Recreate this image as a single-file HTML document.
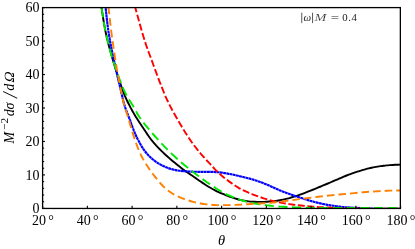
<!DOCTYPE html>
<html><head><meta charset="utf-8"><title>plot</title>
<style>
html,body{margin:0;padding:0;background:#fff;}
body{width:415px;height:249px;overflow:hidden;font-family:"Liberation Serif",serif;}
svg{display:block;}
text{font-family:"Liberation Serif",serif;fill:#000;}
</style></head><body>
<svg width="415" height="249" viewBox="0 0 415 249">
<rect width="415" height="249" fill="#fff"/>
<defs><filter id="gs" x="0" y="0" width="415" height="249" filterUnits="userSpaceOnUse" color-interpolation-filters="sRGB"><feColorMatrix type="saturate" values="0"/></filter><clipPath id="c"><rect x="42.6" y="8.1" width="357.75" height="200.95"/></clipPath></defs>
<g clip-path="url(#c)" fill="none" stroke-width="1.9" stroke-linecap="butt" stroke-linejoin="round">
<path d="M99.04 -7.90 C99.12 -7.40 99.35 -5.92 99.51 -4.94 C99.67 -3.95 99.82 -2.96 99.98 -1.97 C100.14 -0.99 100.30 0.00 100.45 0.99 C100.61 1.98 100.77 2.96 100.93 3.95 C101.08 4.94 101.24 5.93 101.40 6.91 C101.55 7.90 101.71 8.89 101.87 9.88 C102.02 10.86 102.17 11.85 102.33 12.84 C102.48 13.83 102.63 14.82 102.79 15.81 C102.94 16.79 103.09 17.78 103.25 18.77 C103.41 19.76 103.57 20.74 103.73 21.73 C103.89 22.72 104.06 23.70 104.23 24.69 C104.40 25.67 104.58 26.66 104.76 27.64 C104.94 28.62 105.13 29.61 105.33 30.59 C105.53 31.57 105.73 32.55 105.94 33.52 C106.15 34.50 106.37 35.48 106.59 36.45 C106.82 37.42 107.05 38.40 107.28 39.37 C107.52 40.34 107.76 41.31 108.01 42.28 C108.25 43.25 108.51 44.22 108.76 45.18 C109.01 46.15 109.27 47.12 109.54 48.08 C109.80 49.05 110.06 50.01 110.33 50.97 C110.60 51.94 110.87 52.90 111.14 53.86 C111.42 54.82 111.69 55.78 111.97 56.75 C112.25 57.71 112.53 58.67 112.81 59.63 C113.09 60.58 113.38 61.54 113.66 62.50 C113.95 63.46 114.24 64.42 114.53 65.37 C114.82 66.33 115.11 67.29 115.41 68.24 C115.70 69.20 116.00 70.15 116.30 71.11 C116.60 72.06 116.90 73.02 117.20 73.97 C117.50 74.92 117.81 75.87 118.12 76.82 C118.43 77.78 118.74 78.73 119.05 79.68 C119.36 80.63 119.68 81.57 120.00 82.52 C120.32 83.47 120.64 84.42 120.96 85.36 C121.29 86.31 121.62 87.25 121.96 88.19 C122.29 89.13 122.63 90.07 122.98 91.01 C123.34 91.95 123.69 92.88 124.06 93.81 C124.43 94.74 124.82 95.66 125.21 96.58 C125.61 97.49 126.02 98.41 126.44 99.31 C126.86 100.22 127.29 101.12 127.73 102.02 C128.17 102.91 128.63 103.80 129.08 104.69 C129.54 105.58 130.00 106.47 130.46 107.36 C130.93 108.24 131.40 109.12 131.88 110.00 C132.36 110.88 132.84 111.75 133.34 112.62 C133.83 113.49 134.34 114.35 134.85 115.21 C135.36 116.07 135.88 116.92 136.41 117.77 C136.94 118.62 137.48 119.46 138.02 120.30 C138.56 121.14 139.11 121.98 139.66 122.82 C140.21 123.65 140.77 124.48 141.32 125.31 C141.88 126.14 142.44 126.97 143.00 127.80 C143.56 128.63 144.12 129.46 144.68 130.28 C145.24 131.11 145.79 131.94 146.35 132.77 C146.91 133.60 147.46 134.44 148.03 135.26 C148.59 136.09 149.16 136.91 149.74 137.72 C150.33 138.53 150.92 139.33 151.54 140.11 C152.15 140.90 152.79 141.67 153.44 142.43 C154.08 143.19 154.75 143.93 155.42 144.67 C156.09 145.41 156.78 146.14 157.47 146.87 C158.15 147.59 158.85 148.31 159.55 149.03 C160.25 149.74 160.95 150.45 161.66 151.16 C162.37 151.86 163.09 152.56 163.81 153.25 C164.54 153.94 165.27 154.62 166.00 155.29 C166.74 155.97 167.49 156.63 168.24 157.29 C168.99 157.95 169.75 158.60 170.51 159.25 C171.27 159.90 172.04 160.54 172.81 161.18 C173.58 161.82 174.35 162.45 175.13 163.08 C175.90 163.71 176.68 164.34 177.46 164.97 C178.24 165.59 179.02 166.21 179.81 166.82 C180.60 167.44 181.40 168.05 182.20 168.65 C182.99 169.25 183.80 169.84 184.61 170.43 C185.42 171.01 186.24 171.59 187.06 172.16 C187.87 172.74 188.70 173.31 189.52 173.88 C190.34 174.45 191.16 175.01 191.98 175.58 C192.81 176.15 193.63 176.72 194.45 177.29 C195.27 177.86 196.10 178.43 196.92 179.00 C197.74 179.57 198.56 180.13 199.39 180.70 C200.22 181.26 201.04 181.82 201.87 182.38 C202.70 182.94 203.53 183.50 204.37 184.05 C205.20 184.60 206.04 185.15 206.88 185.68 C207.72 186.22 208.57 186.75 209.43 187.27 C210.28 187.78 211.14 188.29 212.01 188.78 C212.88 189.27 213.76 189.75 214.65 190.20 C215.54 190.66 216.44 191.10 217.34 191.52 C218.24 191.95 219.15 192.36 220.07 192.76 C220.99 193.16 221.91 193.55 222.83 193.93 C223.76 194.31 224.69 194.68 225.62 195.04 C226.55 195.40 227.48 195.76 228.42 196.11 C229.36 196.46 230.29 196.81 231.24 197.14 C232.18 197.48 233.12 197.81 234.07 198.12 C235.02 198.43 235.97 198.74 236.93 199.02 C237.89 199.30 238.85 199.57 239.82 199.81 C240.78 200.06 241.76 200.28 242.74 200.47 C243.71 200.67 244.70 200.84 245.68 200.99 C246.67 201.14 247.66 201.26 248.66 201.37 C249.65 201.48 250.64 201.57 251.64 201.64 C252.64 201.72 253.63 201.77 254.63 201.82 C255.63 201.86 256.63 201.89 257.63 201.91 C258.63 201.92 259.63 201.92 260.63 201.91 C261.62 201.90 262.62 201.87 263.62 201.84 C264.62 201.80 265.62 201.75 266.62 201.69 C267.61 201.64 268.61 201.58 269.61 201.50 C270.61 201.43 271.60 201.36 272.60 201.26 C273.59 201.17 274.59 201.07 275.58 200.94 C276.57 200.81 277.56 200.67 278.54 200.50 C279.53 200.34 280.51 200.15 281.49 199.95 C282.46 199.75 283.44 199.53 284.41 199.30 C285.38 199.07 286.35 198.83 287.32 198.57 C288.29 198.32 289.25 198.06 290.21 197.79 C291.18 197.51 292.13 197.23 293.09 196.94 C294.05 196.65 295.00 196.35 295.95 196.04 C296.90 195.73 297.85 195.41 298.79 195.08 C299.74 194.76 300.68 194.42 301.62 194.08 C302.56 193.74 303.50 193.40 304.44 193.05 C305.37 192.69 306.30 192.33 307.24 191.97 C308.17 191.61 309.10 191.24 310.03 190.87 C310.96 190.50 311.88 190.13 312.81 189.75 C313.74 189.38 314.66 189.00 315.59 188.62 C316.51 188.24 317.44 187.86 318.36 187.47 C319.28 187.09 320.21 186.71 321.13 186.32 C322.05 185.94 322.98 185.55 323.90 185.17 C324.82 184.78 325.74 184.39 326.67 184.00 C327.59 183.62 328.51 183.23 329.43 182.84 C330.35 182.45 331.27 182.05 332.19 181.66 C333.11 181.27 334.03 180.88 334.95 180.48 C335.86 180.08 336.78 179.69 337.70 179.29 C338.62 178.89 339.53 178.49 340.45 178.09 C341.37 177.69 342.28 177.29 343.20 176.90 C344.13 176.51 345.05 176.13 345.97 175.75 C346.90 175.38 347.83 175.01 348.76 174.65 C349.70 174.30 350.64 173.95 351.58 173.62 C352.52 173.28 353.46 172.95 354.41 172.63 C355.36 172.31 356.31 172.00 357.26 171.70 C358.21 171.39 359.17 171.09 360.12 170.80 C361.08 170.51 362.04 170.22 363.00 169.94 C363.96 169.66 364.92 169.39 365.88 169.13 C366.85 168.87 367.82 168.62 368.79 168.38 C369.76 168.14 370.73 167.91 371.71 167.70 C372.68 167.49 373.66 167.29 374.64 167.11 C375.63 166.92 376.61 166.75 377.60 166.59 C378.58 166.43 379.57 166.28 380.56 166.14 C381.55 166.00 382.54 165.86 383.53 165.74 C384.53 165.62 385.52 165.50 386.51 165.40 C387.51 165.30 388.50 165.21 389.50 165.13 C390.50 165.05 391.49 164.99 392.49 164.93 C393.49 164.87 394.49 164.83 395.49 164.79 C396.49 164.75 397.49 164.71 398.49 164.68 C399.49 164.66 400.48 164.64 401.48 164.62 C402.48 164.61 403.48 164.60 404.48 164.59 C405.48 164.59 406.48 164.59 407.48 164.59 C408.48 164.59 409.48 164.59 410.48 164.59 C411.48 164.60 412.48 164.60 413.48 164.60 C414.48 164.60 415.98 164.60 416.48 164.60" stroke="#000"/>
<path d="M103.95 -7.95 C104.00 -7.46 104.16 -5.97 104.27 -4.97 C104.37 -3.98 104.48 -2.98 104.59 -1.99 C104.69 -0.99 104.79 0.00 104.90 0.99 C105.01 1.99 105.11 2.98 105.22 3.98 C105.32 4.97 105.43 5.97 105.54 6.96 C105.65 7.95 105.76 8.95 105.86 9.94 C105.97 10.94 106.08 11.93 106.19 12.93 C106.30 13.92 106.40 14.91 106.51 15.91 C106.62 16.90 106.73 17.90 106.84 18.89 C106.95 19.88 107.06 20.88 107.18 21.87 C107.30 22.86 107.42 23.86 107.54 24.85 C107.67 25.84 107.79 26.83 107.93 27.82 C108.06 28.81 108.20 29.80 108.34 30.79 C108.49 31.78 108.64 32.77 108.80 33.76 C108.95 34.75 109.12 35.73 109.29 36.72 C109.45 37.70 109.63 38.69 109.81 39.67 C109.98 40.66 110.17 41.64 110.35 42.62 C110.54 43.61 110.73 44.59 110.92 45.57 C111.11 46.55 111.31 47.53 111.50 48.51 C111.70 49.49 111.90 50.47 112.10 51.45 C112.30 52.43 112.51 53.41 112.71 54.39 C112.92 55.37 113.12 56.34 113.33 57.32 C113.54 58.30 113.74 59.28 113.95 60.26 C114.16 61.24 114.37 62.21 114.58 63.19 C114.79 64.17 115.01 65.15 115.22 66.12 C115.44 67.10 115.65 68.08 115.87 69.05 C116.09 70.03 116.31 71.00 116.53 71.98 C116.75 72.95 116.98 73.93 117.20 74.90 C117.43 75.88 117.65 76.85 117.88 77.82 C118.11 78.80 118.34 79.77 118.57 80.74 C118.80 81.72 119.03 82.69 119.26 83.66 C119.49 84.64 119.72 85.61 119.95 86.58 C120.18 87.56 120.41 88.53 120.64 89.50 C120.87 90.48 121.09 91.45 121.32 92.42 C121.55 93.40 121.77 94.37 122.00 95.35 C122.22 96.32 122.44 97.30 122.68 98.27 C122.91 99.24 123.14 100.21 123.38 101.18 C123.63 102.15 123.88 103.12 124.15 104.08 C124.43 105.04 124.71 106.00 125.02 106.95 C125.33 107.90 125.66 108.84 126.00 109.78 C126.33 110.72 126.70 111.65 127.06 112.58 C127.42 113.51 127.80 114.44 128.16 115.37 C128.53 116.30 128.89 117.23 129.25 118.17 C129.60 119.10 129.95 120.04 130.29 120.98 C130.63 121.92 130.97 122.86 131.31 123.80 C131.65 124.74 131.98 125.68 132.33 126.62 C132.67 127.56 133.02 128.50 133.38 129.43 C133.74 130.36 134.11 131.29 134.49 132.21 C134.88 133.13 135.27 134.05 135.69 134.96 C136.10 135.87 136.52 136.78 136.96 137.68 C137.39 138.58 137.84 139.47 138.30 140.36 C138.76 141.25 139.22 142.13 139.71 143.00 C140.19 143.88 140.68 144.75 141.19 145.61 C141.70 146.47 142.22 147.32 142.77 148.15 C143.32 148.98 143.89 149.80 144.48 150.60 C145.07 151.40 145.69 152.19 146.33 152.95 C146.97 153.71 147.64 154.46 148.32 155.18 C149.01 155.91 149.71 156.62 150.43 157.30 C151.16 157.99 151.90 158.66 152.66 159.30 C153.42 159.94 154.20 160.56 155.00 161.15 C155.80 161.74 156.63 162.31 157.47 162.84 C158.31 163.37 159.17 163.88 160.04 164.36 C160.91 164.84 161.80 165.30 162.70 165.73 C163.59 166.17 164.50 166.59 165.42 166.98 C166.34 167.37 167.27 167.74 168.20 168.08 C169.14 168.41 170.09 168.73 171.04 169.01 C172.00 169.29 172.97 169.54 173.94 169.76 C174.91 169.98 175.89 170.17 176.87 170.34 C177.85 170.51 178.84 170.65 179.83 170.78 C180.82 170.90 181.82 171.00 182.81 171.09 C183.81 171.19 184.80 171.26 185.80 171.33 C186.80 171.40 187.80 171.45 188.80 171.50 C189.79 171.55 190.79 171.60 191.79 171.64 C192.79 171.67 193.79 171.71 194.79 171.74 C195.79 171.77 196.79 171.80 197.79 171.82 C198.79 171.84 199.79 171.86 200.79 171.87 C201.79 171.88 202.79 171.88 203.79 171.88 C204.79 171.88 205.79 171.87 206.79 171.87 C207.79 171.87 208.79 171.86 209.79 171.87 C210.79 171.87 211.78 171.88 212.78 171.92 C213.78 171.95 214.78 171.99 215.78 172.06 C216.77 172.12 217.77 172.20 218.76 172.30 C219.76 172.40 220.75 172.52 221.74 172.65 C222.73 172.78 223.72 172.93 224.71 173.08 C225.69 173.24 226.68 173.41 227.66 173.59 C228.65 173.76 229.63 173.95 230.61 174.15 C231.59 174.35 232.57 174.56 233.54 174.77 C234.52 174.98 235.49 175.20 236.47 175.43 C237.44 175.65 238.42 175.88 239.39 176.11 C240.36 176.34 241.34 176.57 242.31 176.80 C243.28 177.03 244.25 177.27 245.22 177.51 C246.19 177.75 247.16 177.99 248.13 178.25 C249.10 178.50 250.06 178.76 251.02 179.04 C251.99 179.31 252.94 179.59 253.90 179.89 C254.86 180.18 255.81 180.49 256.76 180.80 C257.70 181.11 258.65 181.44 259.59 181.77 C260.53 182.11 261.47 182.45 262.41 182.81 C263.34 183.17 264.27 183.53 265.19 183.91 C266.12 184.29 267.04 184.68 267.95 185.08 C268.87 185.48 269.78 185.89 270.69 186.30 C271.61 186.71 272.51 187.13 273.43 187.54 C274.34 187.95 275.25 188.36 276.17 188.76 C277.08 189.16 278.00 189.55 278.93 189.93 C279.85 190.32 280.78 190.69 281.71 191.06 C282.64 191.43 283.57 191.79 284.50 192.15 C285.44 192.50 286.37 192.85 287.31 193.20 C288.25 193.54 289.19 193.89 290.13 194.22 C291.07 194.56 292.01 194.89 292.96 195.22 C293.90 195.55 294.85 195.87 295.80 196.19 C296.74 196.51 297.69 196.83 298.64 197.14 C299.59 197.45 300.55 197.76 301.50 198.06 C302.45 198.37 303.40 198.67 304.36 198.97 C305.31 199.26 306.27 199.56 307.23 199.85 C308.18 200.14 309.14 200.43 310.10 200.71 C311.06 200.99 312.02 201.27 312.98 201.55 C313.94 201.82 314.91 202.09 315.87 202.34 C316.84 202.60 317.81 202.84 318.78 203.08 C319.75 203.31 320.73 203.53 321.70 203.73 C322.68 203.94 323.66 204.13 324.64 204.32 C325.63 204.51 326.61 204.68 327.60 204.85 C328.58 205.02 329.57 205.18 330.55 205.34 C331.54 205.50 332.53 205.66 333.52 205.81 C334.51 205.96 335.49 206.11 336.48 206.25 C337.47 206.39 338.47 206.52 339.46 206.64 C340.45 206.76 341.44 206.87 342.44 206.97 C343.43 207.07 344.43 207.15 345.43 207.22 C346.42 207.30 347.42 207.36 348.42 207.42 C349.42 207.48 350.41 207.53 351.41 207.59 C352.41 207.65 353.41 207.70 354.41 207.75 C355.41 207.80 356.41 207.86 357.40 207.90 C358.40 207.95 359.40 208.00 360.40 208.04 C361.40 208.09 362.40 208.13 363.40 208.17 C364.40 208.21 365.40 208.25 366.40 208.29 C367.40 208.33 368.39 208.37 369.39 208.40 C370.39 208.44 371.39 208.48 372.39 208.51 C373.39 208.54 374.39 208.58 375.39 208.60 C376.39 208.63 377.39 208.65 378.39 208.67 C379.39 208.68 380.39 208.69 381.39 208.70 C382.39 208.70 383.39 208.70 384.39 208.71 C385.39 208.71 386.39 208.70 387.39 208.70 C388.39 208.70 389.39 208.70 390.39 208.70 C391.39 208.70 392.39 208.70 393.39 208.70 C394.39 208.70 395.39 208.70 396.39 208.70 C397.39 208.70 398.39 208.70 399.39 208.70 C400.39 208.70 401.39 208.70 402.39 208.70 C403.39 208.70 404.39 208.70 405.39 208.70 C406.39 208.70 407.39 208.70 408.39 208.70 C409.39 208.70 410.39 208.70 411.39 208.70 C412.39 208.70 413.39 208.70 414.39 208.70 C415.39 208.70 416.89 208.70 417.39 208.70" stroke="#00f" stroke-dasharray="2.9 0.35" stroke-width="2.15"/>
<path d="M131.29 -7.74 C131.41 -7.26 131.79 -5.81 132.04 -4.84 C132.29 -3.87 132.54 -2.90 132.79 -1.93 C133.04 -0.97 133.29 0.00 133.55 0.97 C133.80 1.94 134.05 2.91 134.30 3.87 C134.56 4.84 134.81 5.81 135.07 6.77 C135.33 7.74 135.59 8.70 135.85 9.67 C136.11 10.63 136.37 11.60 136.64 12.56 C136.90 13.53 137.17 14.49 137.43 15.46 C137.70 16.42 137.96 17.38 138.23 18.35 C138.50 19.31 138.76 20.28 139.03 21.24 C139.30 22.20 139.57 23.17 139.84 24.13 C140.11 25.09 140.38 26.05 140.66 27.02 C140.93 27.98 141.20 28.94 141.48 29.90 C141.76 30.86 142.04 31.82 142.32 32.78 C142.60 33.74 142.88 34.70 143.17 35.66 C143.46 36.61 143.75 37.57 144.04 38.53 C144.34 39.48 144.63 40.44 144.94 41.39 C145.24 42.34 145.55 43.29 145.87 44.24 C146.18 45.19 146.51 46.14 146.84 47.08 C147.16 48.02 147.50 48.97 147.84 49.91 C148.18 50.85 148.53 51.79 148.87 52.72 C149.22 53.66 149.57 54.60 149.92 55.53 C150.27 56.47 150.62 57.41 150.97 58.34 C151.32 59.28 151.67 60.22 152.01 61.16 C152.36 62.10 152.70 63.04 153.04 63.97 C153.39 64.91 153.73 65.85 154.07 66.79 C154.41 67.73 154.76 68.67 155.10 69.61 C155.45 70.55 155.79 71.49 156.14 72.43 C156.49 73.36 156.84 74.30 157.19 75.24 C157.54 76.17 157.89 77.11 158.24 78.05 C158.60 78.98 158.95 79.91 159.31 80.85 C159.67 81.78 160.03 82.72 160.39 83.65 C160.75 84.58 161.12 85.51 161.49 86.44 C161.86 87.37 162.23 88.30 162.60 89.22 C162.98 90.15 163.35 91.08 163.73 92.00 C164.12 92.93 164.50 93.85 164.89 94.77 C165.27 95.69 165.66 96.61 166.07 97.53 C166.47 98.45 166.87 99.36 167.29 100.27 C167.71 101.18 168.13 102.08 168.57 102.98 C169.01 103.88 169.45 104.77 169.91 105.66 C170.36 106.55 170.83 107.44 171.30 108.32 C171.77 109.20 172.25 110.08 172.74 110.95 C173.22 111.83 173.71 112.70 174.20 113.57 C174.69 114.44 175.18 115.31 175.68 116.18 C176.17 117.05 176.67 117.92 177.17 118.79 C177.66 119.65 178.16 120.52 178.66 121.39 C179.16 122.25 179.66 123.12 180.17 123.98 C180.67 124.85 181.18 125.71 181.69 126.57 C182.20 127.42 182.72 128.28 183.24 129.13 C183.76 129.99 184.29 130.84 184.82 131.68 C185.35 132.53 185.89 133.37 186.43 134.21 C186.97 135.05 187.52 135.89 188.07 136.73 C188.62 137.56 189.18 138.39 189.74 139.22 C190.30 140.05 190.86 140.87 191.43 141.69 C192.00 142.51 192.58 143.33 193.17 144.14 C193.75 144.95 194.35 145.76 194.95 146.55 C195.55 147.35 196.17 148.14 196.79 148.92 C197.41 149.70 198.05 150.47 198.69 151.24 C199.33 152.01 199.98 152.76 200.64 153.52 C201.29 154.28 201.95 155.02 202.62 155.77 C203.28 156.52 203.94 157.27 204.61 158.01 C205.28 158.76 205.94 159.50 206.61 160.25 C207.28 160.99 207.96 161.73 208.63 162.47 C209.30 163.21 209.98 163.95 210.66 164.68 C211.33 165.42 212.01 166.15 212.70 166.88 C213.38 167.61 214.07 168.34 214.76 169.05 C215.46 169.77 216.16 170.49 216.87 171.19 C217.58 171.89 218.30 172.58 219.04 173.26 C219.77 173.93 220.51 174.60 221.27 175.26 C222.02 175.92 222.78 176.56 223.55 177.20 C224.32 177.84 225.10 178.46 225.89 179.08 C226.68 179.69 227.47 180.30 228.28 180.89 C229.08 181.49 229.89 182.07 230.71 182.65 C231.52 183.22 232.35 183.79 233.17 184.35 C234.00 184.91 234.84 185.46 235.68 185.99 C236.53 186.53 237.38 187.05 238.24 187.56 C239.10 188.07 239.97 188.56 240.84 189.04 C241.72 189.51 242.61 189.97 243.50 190.41 C244.40 190.86 245.30 191.28 246.21 191.70 C247.12 192.11 248.04 192.51 248.96 192.90 C249.88 193.29 250.80 193.67 251.73 194.04 C252.66 194.41 253.59 194.77 254.53 195.13 C255.46 195.48 256.40 195.82 257.35 196.15 C258.29 196.49 259.23 196.81 260.18 197.13 C261.13 197.44 262.08 197.75 263.03 198.05 C263.99 198.36 264.94 198.65 265.90 198.94 C266.86 199.23 267.81 199.52 268.78 199.79 C269.74 200.07 270.70 200.34 271.66 200.60 C272.63 200.86 273.60 201.11 274.57 201.34 C275.54 201.58 276.51 201.81 277.49 202.02 C278.47 202.23 279.45 202.43 280.43 202.62 C281.41 202.81 282.39 202.99 283.38 203.16 C284.36 203.33 285.35 203.48 286.34 203.64 C287.33 203.79 288.32 203.94 289.31 204.08 C290.30 204.22 291.29 204.35 292.28 204.48 C293.27 204.62 294.26 204.74 295.25 204.86 C296.25 204.99 297.24 205.10 298.23 205.22 C299.23 205.33 300.22 205.44 301.21 205.55 C302.21 205.66 303.20 205.77 304.20 205.87 C305.19 205.98 306.18 206.08 307.18 206.18 C308.17 206.28 309.17 206.38 310.17 206.47 C311.16 206.56 312.16 206.64 313.15 206.72 C314.15 206.80 315.15 206.87 316.15 206.94 C317.14 207.00 318.14 207.06 319.14 207.11 C320.14 207.17 321.14 207.21 322.14 207.26 C323.14 207.30 324.13 207.34 325.13 207.38 C326.13 207.43 327.13 207.47 328.13 207.51 C329.13 207.54 330.13 207.58 331.13 207.62 C332.13 207.66 333.13 207.70 334.13 207.74 C335.13 207.77 336.13 207.81 337.13 207.85 C338.12 207.88 339.12 207.92 340.12 207.95 C341.12 207.99 342.12 208.02 343.12 208.06 C344.12 208.09 345.12 208.12 346.12 208.16 C347.12 208.19 348.12 208.22 349.12 208.26 C350.12 208.29 351.12 208.32 352.12 208.35 C353.12 208.39 354.12 208.42 355.12 208.45 C356.11 208.48 357.11 208.51 358.11 208.54 C359.11 208.56 360.11 208.59 361.11 208.61 C362.11 208.64 363.11 208.66 364.11 208.67 C365.11 208.68 366.11 208.69 367.11 208.70 C368.11 208.70 369.11 208.71 370.11 208.71 C371.11 208.71 372.11 208.70 373.11 208.70 C374.11 208.70 375.11 208.70 376.11 208.70 C377.11 208.70 378.11 208.70 379.11 208.70 C380.11 208.70 381.11 208.70 382.11 208.70 C383.11 208.70 384.11 208.70 385.11 208.70 C386.11 208.70 387.11 208.70 388.11 208.70 C389.11 208.70 390.11 208.70 391.11 208.70 C392.11 208.70 393.11 208.70 394.11 208.70 C395.11 208.70 396.11 208.70 397.11 208.70 C398.11 208.70 399.11 208.70 400.11 208.70 C401.11 208.70 402.11 208.70 403.11 208.70 C404.11 208.70 405.11 208.70 406.11 208.70 C407.11 208.70 408.61 208.70 409.11 208.70" stroke="#f00" stroke-dasharray="6.96 2.59" stroke-dashoffset="5.5"/>
<path d="M99.04 -7.90 C99.12 -7.40 99.35 -5.92 99.51 -4.94 C99.67 -3.95 99.82 -2.96 99.98 -1.97 C100.14 -0.99 100.30 0.00 100.45 0.99 C100.61 1.98 100.77 2.96 100.93 3.95 C101.08 4.94 101.24 5.93 101.40 6.91 C101.55 7.90 101.71 8.89 101.87 9.88 C102.02 10.86 102.17 11.85 102.33 12.84 C102.48 13.83 102.63 14.82 102.79 15.81 C102.94 16.79 103.09 17.78 103.25 18.77 C103.41 19.76 103.57 20.74 103.73 21.73 C103.89 22.72 104.06 23.70 104.23 24.69 C104.40 25.67 104.58 26.66 104.76 27.64 C104.94 28.62 105.13 29.61 105.33 30.59 C105.52 31.57 105.73 32.55 105.94 33.52 C106.14 34.50 106.36 35.48 106.58 36.45 C106.80 37.43 107.03 38.40 107.26 39.37 C107.49 40.35 107.73 41.32 107.97 42.29 C108.21 43.26 108.45 44.23 108.70 45.20 C108.95 46.17 109.20 47.13 109.46 48.10 C109.71 49.07 109.98 50.03 110.24 51.00 C110.51 51.96 110.78 52.92 111.06 53.88 C111.33 54.84 111.61 55.80 111.90 56.76 C112.18 57.72 112.47 58.68 112.77 59.63 C113.06 60.59 113.36 61.54 113.67 62.49 C113.97 63.45 114.28 64.40 114.60 65.35 C114.91 66.30 115.23 67.24 115.56 68.19 C115.88 69.13 116.21 70.08 116.54 71.02 C116.88 71.96 117.21 72.91 117.55 73.85 C117.89 74.79 118.24 75.73 118.59 76.66 C118.94 77.60 119.29 78.54 119.64 79.47 C120.00 80.40 120.36 81.34 120.73 82.27 C121.09 83.20 121.46 84.13 121.84 85.05 C122.22 85.98 122.60 86.90 122.99 87.82 C123.38 88.74 123.78 89.66 124.19 90.57 C124.61 91.48 125.03 92.38 125.48 93.28 C125.92 94.17 126.38 95.06 126.86 95.93 C127.34 96.81 127.85 97.67 128.36 98.52 C128.88 99.38 129.42 100.22 129.95 101.06 C130.48 101.91 131.03 102.74 131.56 103.59 C132.10 104.44 132.63 105.28 133.14 106.14 C133.65 107.00 134.14 107.87 134.63 108.74 C135.12 109.61 135.59 110.49 136.08 111.36 C136.56 112.24 137.04 113.11 137.54 113.98 C138.05 114.84 138.56 115.69 139.10 116.53 C139.63 117.38 140.19 118.20 140.77 119.02 C141.34 119.84 141.93 120.64 142.54 121.44 C143.14 122.23 143.76 123.02 144.38 123.80 C145.00 124.59 145.63 125.36 146.26 126.14 C146.90 126.91 147.54 127.68 148.18 128.44 C148.82 129.21 149.47 129.97 150.12 130.73 C150.77 131.49 151.43 132.25 152.08 133.00 C152.74 133.75 153.40 134.50 154.07 135.25 C154.73 136.00 155.40 136.74 156.07 137.48 C156.74 138.23 157.41 138.96 158.09 139.70 C158.77 140.44 159.44 141.17 160.13 141.90 C160.81 142.64 161.49 143.37 162.17 144.10 C162.86 144.82 163.54 145.55 164.23 146.28 C164.92 147.00 165.62 147.72 166.31 148.44 C167.01 149.15 167.72 149.86 168.43 150.57 C169.14 151.27 169.85 151.96 170.58 152.66 C171.30 153.35 172.03 154.03 172.75 154.72 C173.48 155.40 174.21 156.09 174.95 156.77 C175.68 157.45 176.41 158.12 177.15 158.80 C177.89 159.47 178.64 160.14 179.39 160.80 C180.14 161.46 180.89 162.11 181.65 162.76 C182.42 163.41 183.18 164.05 183.95 164.69 C184.72 165.33 185.49 165.96 186.27 166.59 C187.04 167.22 187.82 167.85 188.60 168.48 C189.38 169.10 190.17 169.73 190.95 170.34 C191.74 170.96 192.52 171.58 193.31 172.19 C194.10 172.81 194.90 173.42 195.69 174.02 C196.49 174.63 197.29 175.23 198.09 175.83 C198.89 176.42 199.70 177.02 200.50 177.60 C201.31 178.19 202.12 178.78 202.94 179.36 C203.75 179.94 204.57 180.52 205.39 181.09 C206.21 181.66 207.03 182.24 207.85 182.80 C208.67 183.37 209.50 183.94 210.32 184.50 C211.15 185.06 211.98 185.62 212.81 186.18 C213.64 186.73 214.47 187.29 215.31 187.83 C216.15 188.37 217.00 188.91 217.84 189.44 C218.69 189.97 219.55 190.49 220.41 190.99 C221.27 191.50 222.14 191.99 223.02 192.47 C223.89 192.95 224.78 193.42 225.67 193.87 C226.56 194.32 227.46 194.75 228.37 195.17 C229.27 195.58 230.19 195.98 231.11 196.37 C232.03 196.76 232.96 197.13 233.89 197.49 C234.82 197.86 235.76 198.20 236.70 198.55 C237.64 198.89 238.58 199.23 239.52 199.55 C240.47 199.88 241.42 200.20 242.37 200.51 C243.32 200.81 244.27 201.11 245.23 201.38 C246.19 201.66 247.16 201.92 248.13 202.16 C249.10 202.39 250.07 202.61 251.05 202.81 C252.03 203.02 253.01 203.20 253.99 203.37 C254.98 203.55 255.97 203.70 256.95 203.86 C257.94 204.01 258.93 204.16 259.92 204.30 C260.91 204.45 261.90 204.59 262.89 204.73 C263.88 204.87 264.87 205.01 265.86 205.15 C266.85 205.29 267.84 205.43 268.83 205.55 C269.82 205.67 270.81 205.79 271.81 205.89 C272.80 206.00 273.80 206.08 274.79 206.17 C275.79 206.25 276.79 206.32 277.78 206.39 C278.78 206.46 279.78 206.53 280.78 206.59 C281.77 206.66 282.77 206.72 283.77 206.78 C284.77 206.84 285.77 206.90 286.77 206.96 C287.76 207.02 288.76 207.08 289.76 207.13 C290.76 207.18 291.76 207.24 292.76 207.28 C293.76 207.33 294.75 207.38 295.75 207.42 C296.75 207.46 297.75 207.50 298.75 207.53 C299.75 207.57 300.75 207.60 301.75 207.63 C302.75 207.66 303.75 207.69 304.75 207.72 C305.75 207.74 306.75 207.77 307.75 207.79 C308.75 207.82 309.75 207.84 310.75 207.87 C311.75 207.89 312.75 207.92 313.75 207.94 C314.75 207.96 315.75 207.97 316.74 207.99 C317.74 208.00 318.74 208.01 319.74 208.02 C320.74 208.03 321.74 208.03 322.74 208.03 C323.74 208.03 324.74 208.02 325.74 208.01 C326.74 208.01 327.74 208.00 328.74 207.99 C329.74 207.98 330.74 207.97 331.74 207.97 C332.74 207.96 333.74 207.96 334.74 207.95 C335.74 207.95 336.74 207.95 337.74 207.95 C338.74 207.95 339.74 207.95 340.74 207.95 C341.74 207.95 342.74 207.95 343.74 207.95 C344.74 207.95 345.74 207.95 346.74 207.95 C347.74 207.95 348.74 207.95 349.74 207.95 C350.74 207.95 351.74 207.95 352.74 207.95 C353.74 207.95 354.74 207.95 355.74 207.95 C356.74 207.95 357.74 207.95 358.74 207.95 C359.74 207.95 360.74 207.95 361.74 207.95 C362.74 207.95 363.74 207.95 364.74 207.95 C365.74 207.95 366.74 207.95 367.74 207.95 C368.74 207.95 369.74 207.95 370.74 207.95 C371.74 207.95 372.74 207.95 373.74 207.95 C374.74 207.95 375.74 207.95 376.74 207.95 C377.74 207.95 378.74 207.95 379.74 207.95 C380.74 207.95 381.74 207.95 382.74 207.95 C383.74 207.95 384.74 207.95 385.74 207.95 C386.74 207.95 387.74 207.95 388.74 207.95 C389.74 207.95 390.74 207.95 391.74 207.95 C392.74 207.95 393.74 207.95 394.74 207.95 C395.74 207.95 396.74 207.95 397.74 207.95 C398.74 207.95 399.74 207.95 400.74 207.95 C401.74 207.95 402.74 207.95 403.74 207.95 C404.74 207.95 405.74 207.95 406.74 207.95 C407.74 207.95 409.24 207.95 409.74 207.95" stroke="#00e800" stroke-dasharray="9.1 4.57" stroke-dashoffset="10.9"/>
<path d="M107.06 -7.96 C107.10 -7.47 107.24 -5.97 107.33 -4.98 C107.43 -3.98 107.52 -2.99 107.61 -1.99 C107.70 -1.00 107.79 0.00 107.88 1.00 C107.98 1.99 108.07 2.99 108.16 3.98 C108.26 4.98 108.36 5.97 108.46 6.97 C108.56 7.96 108.67 8.96 108.78 9.95 C108.88 10.95 108.99 11.94 109.10 12.93 C109.21 13.93 109.32 14.92 109.44 15.91 C109.55 16.91 109.66 17.90 109.77 18.90 C109.89 19.89 110.00 20.88 110.12 21.88 C110.23 22.87 110.35 23.86 110.47 24.86 C110.59 25.85 110.71 26.84 110.83 27.83 C110.95 28.83 111.07 29.82 111.20 30.81 C111.33 31.80 111.45 32.79 111.58 33.79 C111.72 34.78 111.85 35.77 111.98 36.76 C112.12 37.75 112.25 38.74 112.39 39.73 C112.53 40.72 112.67 41.71 112.81 42.70 C112.95 43.69 113.09 44.68 113.24 45.67 C113.38 46.66 113.53 47.65 113.67 48.64 C113.82 49.63 113.96 50.62 114.11 51.61 C114.26 52.60 114.41 53.59 114.55 54.57 C114.70 55.56 114.85 56.55 115.00 57.54 C115.16 58.53 115.31 59.52 115.46 60.50 C115.62 61.49 115.77 62.48 115.93 63.47 C116.09 64.45 116.26 65.44 116.42 66.43 C116.59 67.41 116.76 68.40 116.94 69.38 C117.12 70.37 117.31 71.35 117.49 72.33 C117.68 73.31 117.87 74.29 118.06 75.28 C118.24 76.26 118.43 77.24 118.62 78.22 C118.81 79.20 119.00 80.19 119.18 81.17 C119.37 82.15 119.56 83.13 119.75 84.12 C119.94 85.10 120.13 86.08 120.32 87.06 C120.52 88.04 120.71 89.02 120.91 90.00 C121.10 90.98 121.30 91.96 121.50 92.94 C121.70 93.92 121.91 94.90 122.11 95.88 C122.32 96.86 122.52 97.84 122.74 98.81 C122.95 99.79 123.17 100.77 123.40 101.74 C123.62 102.71 123.86 103.69 124.11 104.65 C124.36 105.62 124.62 106.59 124.90 107.55 C125.17 108.51 125.47 109.46 125.77 110.41 C126.07 111.37 126.39 112.31 126.70 113.26 C127.01 114.21 127.33 115.16 127.63 116.11 C127.94 117.06 128.24 118.02 128.54 118.97 C128.83 119.93 129.12 120.89 129.40 121.85 C129.68 122.80 129.95 123.77 130.23 124.73 C130.51 125.69 130.78 126.65 131.06 127.61 C131.34 128.57 131.62 129.53 131.90 130.49 C132.19 131.45 132.48 132.40 132.78 133.36 C133.08 134.31 133.39 135.26 133.70 136.21 C134.02 137.16 134.34 138.11 134.66 139.05 C134.99 140.00 135.32 140.94 135.65 141.88 C135.99 142.83 136.33 143.77 136.67 144.71 C137.01 145.65 137.36 146.58 137.71 147.52 C138.07 148.45 138.43 149.38 138.81 150.31 C139.19 151.23 139.59 152.15 140.00 153.05 C140.42 153.96 140.86 154.86 141.31 155.75 C141.77 156.63 142.24 157.51 142.73 158.39 C143.21 159.26 143.71 160.13 144.22 160.99 C144.73 161.85 145.24 162.71 145.77 163.56 C146.29 164.41 146.82 165.26 147.36 166.09 C147.91 166.93 148.46 167.77 149.02 168.59 C149.58 169.42 150.16 170.24 150.74 171.05 C151.32 171.86 151.92 172.67 152.52 173.47 C153.12 174.27 153.73 175.06 154.34 175.85 C154.95 176.64 155.57 177.42 156.20 178.20 C156.83 178.98 157.46 179.76 158.10 180.52 C158.74 181.29 159.39 182.05 160.05 182.80 C160.71 183.55 161.38 184.29 162.07 185.01 C162.76 185.74 163.45 186.45 164.17 187.15 C164.88 187.84 165.61 188.53 166.36 189.18 C167.11 189.83 167.88 190.47 168.68 191.07 C169.47 191.67 170.29 192.24 171.12 192.78 C171.95 193.32 172.81 193.83 173.68 194.32 C174.55 194.81 175.44 195.27 176.33 195.71 C177.22 196.15 178.13 196.57 179.04 196.98 C179.96 197.38 180.88 197.77 181.81 198.13 C182.73 198.50 183.67 198.85 184.61 199.19 C185.55 199.52 186.50 199.84 187.45 200.15 C188.40 200.45 189.36 200.74 190.32 201.02 C191.28 201.30 192.24 201.56 193.21 201.81 C194.18 202.06 195.15 202.29 196.12 202.52 C197.10 202.74 198.08 202.95 199.06 203.14 C200.04 203.34 201.02 203.52 202.00 203.69 C202.99 203.86 203.98 204.01 204.97 204.15 C205.95 204.29 206.95 204.41 207.94 204.51 C208.93 204.62 209.93 204.71 210.92 204.79 C211.92 204.86 212.92 204.92 213.92 204.97 C214.92 205.02 215.91 205.06 216.91 205.09 C217.91 205.12 218.91 205.14 219.91 205.15 C220.91 205.17 221.91 205.17 222.91 205.17 C223.91 205.17 224.91 205.17 225.91 205.16 C226.91 205.15 227.91 205.13 228.91 205.11 C229.91 205.09 230.91 205.06 231.91 205.03 C232.91 205.00 233.91 204.96 234.91 204.92 C235.91 204.88 236.90 204.84 237.90 204.79 C238.90 204.74 239.90 204.69 240.90 204.63 C241.90 204.58 242.90 204.52 243.89 204.46 C244.89 204.40 245.89 204.33 246.89 204.27 C247.89 204.21 248.88 204.14 249.88 204.07 C250.88 204.01 251.88 203.94 252.88 203.88 C253.87 203.81 254.87 203.75 255.87 203.69 C256.87 203.63 257.87 203.58 258.86 203.53 C259.86 203.47 260.86 203.42 261.86 203.37 C262.86 203.32 263.86 203.27 264.86 203.21 C265.85 203.15 266.85 203.09 267.85 203.01 C268.85 202.94 269.84 202.85 270.84 202.76 C271.83 202.67 272.83 202.57 273.82 202.47 C274.82 202.36 275.81 202.25 276.80 202.13 C277.80 202.02 278.79 201.89 279.78 201.77 C280.77 201.65 281.77 201.52 282.76 201.40 C283.75 201.27 284.74 201.14 285.73 201.01 C286.72 200.88 287.71 200.75 288.71 200.62 C289.70 200.48 290.69 200.35 291.68 200.22 C292.67 200.08 293.66 199.95 294.65 199.82 C295.64 199.69 296.64 199.56 297.63 199.43 C298.62 199.30 299.61 199.17 300.60 199.04 C301.59 198.91 302.59 198.79 303.58 198.66 C304.57 198.53 305.56 198.41 306.55 198.28 C307.55 198.15 308.54 198.02 309.53 197.89 C310.52 197.75 311.51 197.62 312.50 197.49 C313.49 197.36 314.48 197.22 315.48 197.10 C316.47 196.97 317.46 196.84 318.45 196.71 C319.44 196.59 320.44 196.47 321.43 196.35 C322.42 196.24 323.42 196.12 324.41 196.01 C325.40 195.90 326.40 195.79 327.39 195.69 C328.39 195.58 329.38 195.48 330.38 195.38 C331.37 195.28 332.37 195.18 333.36 195.08 C334.36 194.98 335.35 194.89 336.35 194.79 C337.34 194.70 338.34 194.61 339.33 194.52 C340.33 194.43 341.33 194.34 342.32 194.25 C343.32 194.15 344.31 194.06 345.31 193.96 C346.30 193.87 347.30 193.77 348.29 193.67 C349.29 193.57 350.28 193.47 351.28 193.37 C352.27 193.28 353.27 193.18 354.27 193.08 C355.26 192.98 356.26 192.89 357.25 192.80 C358.25 192.70 359.24 192.61 360.24 192.52 C361.23 192.43 362.23 192.34 363.23 192.26 C364.22 192.17 365.22 192.09 366.22 192.01 C367.21 191.93 368.21 191.85 369.21 191.77 C370.20 191.70 371.20 191.63 372.20 191.56 C373.20 191.49 374.19 191.42 375.19 191.36 C376.19 191.30 377.19 191.24 378.19 191.18 C379.19 191.12 380.18 191.07 381.18 191.02 C382.18 190.97 383.18 190.92 384.18 190.88 C385.18 190.83 386.18 190.79 387.18 190.76 C388.18 190.72 389.18 190.69 390.18 190.66 C391.17 190.63 392.17 190.61 393.17 190.58 C394.17 190.56 395.17 190.54 396.17 190.52 C397.17 190.50 398.17 190.49 399.17 190.48 C400.17 190.46 401.17 190.46 402.17 190.45 C403.17 190.44 404.17 190.43 405.17 190.43 C406.17 190.42 407.17 190.41 408.17 190.41 C409.17 190.40 410.17 190.40 411.17 190.39 C412.17 190.39 413.17 190.38 414.17 190.38 C415.17 190.37 416.67 190.36 417.17 190.36" stroke="#ff8000" stroke-dasharray="7.6 4" stroke-dashoffset="8.5"/>
</g>
<g stroke="#000" stroke-width="1.1" fill="none"><line x1="42.60" y1="208.40" x2="45.00" y2="208.40"/><line x1="42.60" y1="201.71" x2="44.15" y2="201.71"/><line x1="42.60" y1="195.01" x2="44.15" y2="195.01"/><line x1="42.60" y1="188.32" x2="44.15" y2="188.32"/><line x1="42.60" y1="181.63" x2="44.15" y2="181.63"/><line x1="42.60" y1="174.93" x2="45.00" y2="174.93"/><line x1="42.60" y1="168.24" x2="44.15" y2="168.24"/><line x1="42.60" y1="161.55" x2="44.15" y2="161.55"/><line x1="42.60" y1="154.85" x2="44.15" y2="154.85"/><line x1="42.60" y1="148.16" x2="44.15" y2="148.16"/><line x1="42.60" y1="141.47" x2="45.00" y2="141.47"/><line x1="42.60" y1="134.77" x2="44.15" y2="134.77"/><line x1="42.60" y1="128.08" x2="44.15" y2="128.08"/><line x1="42.60" y1="121.39" x2="44.15" y2="121.39"/><line x1="42.60" y1="114.69" x2="44.15" y2="114.69"/><line x1="42.60" y1="108.00" x2="45.00" y2="108.00"/><line x1="42.60" y1="101.31" x2="44.15" y2="101.31"/><line x1="42.60" y1="94.61" x2="44.15" y2="94.61"/><line x1="42.60" y1="87.92" x2="44.15" y2="87.92"/><line x1="42.60" y1="81.23" x2="44.15" y2="81.23"/><line x1="42.60" y1="74.53" x2="45.00" y2="74.53"/><line x1="42.60" y1="67.84" x2="44.15" y2="67.84"/><line x1="42.60" y1="61.15" x2="44.15" y2="61.15"/><line x1="42.60" y1="54.45" x2="44.15" y2="54.45"/><line x1="42.60" y1="47.76" x2="44.15" y2="47.76"/><line x1="42.60" y1="41.07" x2="45.00" y2="41.07"/><line x1="42.60" y1="34.37" x2="44.15" y2="34.37"/><line x1="42.60" y1="27.68" x2="44.15" y2="27.68"/><line x1="42.60" y1="20.99" x2="44.15" y2="20.99"/><line x1="42.60" y1="14.29" x2="44.15" y2="14.29"/><line x1="42.60" y1="7.60" x2="45.00" y2="7.60"/><line x1="42.60" y1="208.45" x2="42.60" y2="205.85"/><line x1="87.35" y1="208.45" x2="87.35" y2="205.85"/><line x1="132.10" y1="208.45" x2="132.10" y2="205.85"/><line x1="176.85" y1="208.45" x2="176.85" y2="205.85"/><line x1="221.60" y1="208.45" x2="221.60" y2="205.85"/><line x1="266.35" y1="208.45" x2="266.35" y2="205.85"/><line x1="311.10" y1="208.45" x2="311.10" y2="205.85"/><line x1="355.85" y1="208.45" x2="355.85" y2="205.85"/><line x1="400.60" y1="208.45" x2="400.60" y2="205.85"/></g>
<rect x="42.6" y="7.6" width="357.75" height="200.85" fill="none" stroke="#000" stroke-width="1.3"/>
<g filter="url(#gs)"><g font-size="14px"><text x="39.4" y="213.00" text-anchor="end">0</text><text x="39.4" y="179.53" text-anchor="end">10</text><text x="39.4" y="146.07" text-anchor="end">20</text><text x="39.4" y="112.60" text-anchor="end">30</text><text x="39.4" y="79.13" text-anchor="end">40</text><text x="39.4" y="45.67" text-anchor="end">50</text><text x="39.4" y="12.20" text-anchor="end">60</text><text x="42.90" y="224.9" text-anchor="middle">20<tspan dx="2.3">°</tspan></text><text x="87.65" y="224.9" text-anchor="middle">40<tspan dx="2.3">°</tspan></text><text x="132.40" y="224.9" text-anchor="middle">60<tspan dx="2.3">°</tspan></text><text x="177.15" y="224.9" text-anchor="middle">80<tspan dx="2.3">°</tspan></text><text x="221.90" y="224.9" text-anchor="middle">100<tspan dx="2.3">°</tspan></text><text x="266.65" y="224.9" text-anchor="middle">120<tspan dx="2.3">°</tspan></text><text x="311.40" y="224.9" text-anchor="middle">140<tspan dx="2.3">°</tspan></text><text x="356.15" y="224.9" text-anchor="middle">160<tspan dx="2.3">°</tspan></text><text x="400.90" y="224.9" text-anchor="middle">180<tspan dx="2.3">°</tspan></text></g>
<text x="221.5" y="244.5" font-size="14.5px" font-style="italic" text-anchor="middle">θ</text>
<g transform="translate(13.8,143.6) rotate(-90)" font-size="14px" font-style="italic">
<text x="0" y="0">M</text>
<text x="13.7" y="-5.4" font-size="11.3px" font-style="normal">−2</text>
<text x="27.3" y="0">d</text>
<text x="34.0" y="0">σ</text>
<text x="45.3" y="3.2" font-size="21px" font-style="normal" transform="translate(45.3,0) skewX(-8) translate(-45.3,0)">/</text>
<text x="52.9" y="0">d</text>
<text transform="translate(60.6,0) skewX(-13)" font-style="normal">Ω</text>
</g>
<g font-size="10.8px" fill="#222" style="fill:#222">
<line x1="301.75" y1="12.7" x2="301.75" y2="23.1" stroke="#222" stroke-width="0.75"/>
<text x="303.5" y="20.7" font-style="italic" style="fill:#222">ω</text>
<line x1="312.55" y1="12.7" x2="312.55" y2="23.1" stroke="#222" stroke-width="0.75"/>
<text x="314.6" y="20.7" font-style="italic" textLength="11.9" lengthAdjust="spacingAndGlyphs" style="fill:#222;stroke:#fff;stroke-width:0.18px;paint-order:fill stroke">M</text>
<text x="330.8" y="20.7" textLength="8.3" lengthAdjust="spacingAndGlyphs" style="fill:#222">=</text>
<text x="342.2" y="20.7" textLength="14.6" lengthAdjust="spacing" style="fill:#222">0.4</text>
</g>
</g>
</svg>
</body></html>
